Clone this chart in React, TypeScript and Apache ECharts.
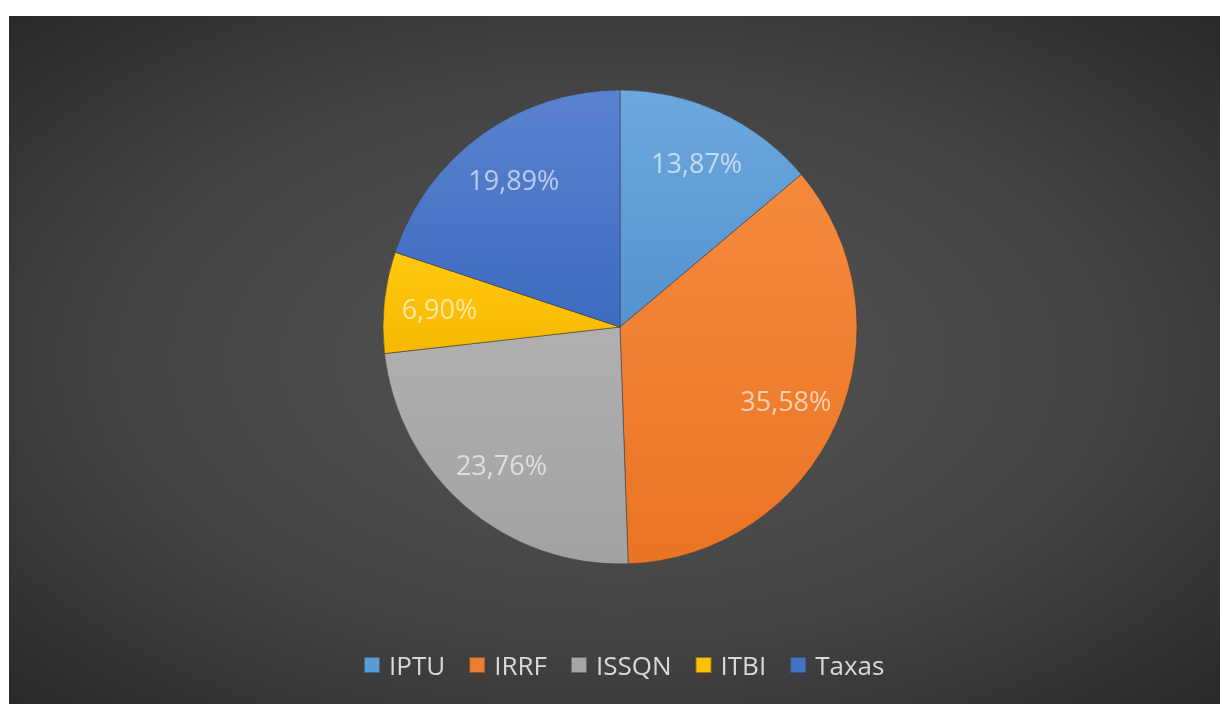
import React, { useEffect, useRef } from "react";
import * as echarts from "echarts";

const categories = ["IPTU", "IRRF", "ISSQN", "ITBI", "Taxas"];
const shares = [13.87, 35.58, 23.76, 6.9, 19.89];
const colorsTop = ["#6ca8de", "#f58a3c", "#b0b0b0", "#ffc90f", "#5a82cf"];
const colorsBottom = ["#5393d0", "#ea7424", "#a2a2a2", "#f6b800", "#3e6bc0"];
const legendColors = ["#5b9bd5", "#ed7d31", "#a5a5a5", "#ffc000", "#4472c4"];

export default function App() {
  const ref = useRef<HTMLDivElement>(null);
  useEffect(() => {
    if (!ref.current) return;
    const chart = echarts.init(ref.current, null, { renderer: "svg" });
    const data = categories.map((name, i) => ({
      name,
      value: shares[i],
      itemStyle: {
        color: new echarts.graphic.LinearGradient(0, 0, 0, 1, [
          { offset: 0, color: colorsTop[i] },
          { offset: 1, color: colorsBottom[i] },
        ]),
      },
    }));
    const labelData = categories.map((name, i) => ({ name, value: shares[i] }));
    chart.setOption({
      animation: false,
      backgroundColor: new echarts.graphic.RadialGradient(0.5, 0.5, 0.75, [
        { offset: 0, color: "#555555" },
        { offset: 0.55, color: "#434343" },
        { offset: 1, color: "#262626" },
      ]),
      color: legendColors,
      legend: {
        top: 631,
        left: 349,
        itemWidth: 16,
        itemHeight: 16,
        itemGap: 23,
        icon: "rect",
        data: categories.map((name, i) => ({ name, itemStyle: { color: legendColors[i] } })),
        textStyle: {
          color: "#d9d9d9",
          fontSize: 26,
          fontFamily: "Open Sans",
          padding: [0, 0, 0, 4],
        },
      },
      series: [
        {
          type: "pie",
          center: [611, 311],
          radius: [0, 237],
          startAngle: 90,
          clockwise: true,
          silent: true,
          label: { show: false },
          labelLine: { show: false },
          itemStyle: { borderColor: "rgba(60,60,60,0.55)", borderWidth: 1 },
          data,
        },
        {
          type: "pie",
          center: [611, 311],
          radius: [120, 237],
          startAngle: 90,
          clockwise: true,
          silent: true,
          itemStyle: { color: "rgba(0,0,0,0)", borderWidth: 0 },
          label: {
            show: true,
            position: "inside",
            formatter: (p: any) => p.value.toFixed(2).replace(".", ",") + "%",
            color: "rgba(255,255,255,0.62)",
            fontSize: 27,
            fontFamily: "Open Sans",
          },
          labelLine: { show: false },
          legendHoverLink: false,
          data: labelData,
        },
      ],
    });
    return () => chart.dispose();
  }, []);
  return (
    <div
      ref={ref}
      style={{ position: "fixed", left: 9, top: 16, width: 1211, height: 688 }}
    />
  );
}
